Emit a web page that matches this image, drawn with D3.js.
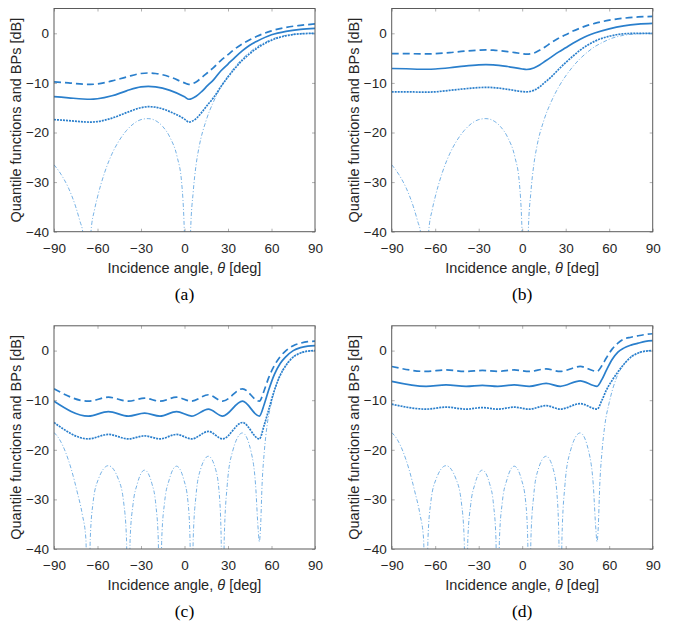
<!DOCTYPE html>
<meta charset="utf-8">
<style>
body { margin: 0; background: #fff; }
.tick text { font-family: Arial, "Liberation Sans", sans-serif; font-size: 13.5px; fill: #262626; }
.tick line { stroke: #b0b0b0; }
.xlab, .ylab { font-family: Arial, "Liberation Sans", sans-serif; font-size: 14.5px; fill: #262626; }
.cap { font-family: "Times New Roman", "Liberation Serif", serif; font-size: 17.5px; fill: #000; }
.box { fill: none; stroke: #5a5a5a; stroke-width: 1; }
.upper { fill: none; stroke: #2a7fcc; stroke-width: 1.7px; stroke-dasharray: 7,4; }
.median { fill: none; stroke: #2a7fcc; stroke-width: 1.7px; }
.lower { fill: none; stroke: #2a7fcc; stroke-width: 1.7px; stroke-dasharray: 2,1; }
.bp { fill: none; stroke: #5fa5e0; stroke-width: 1px; stroke-dasharray: 4,2,1,2; stroke-opacity: 0.85; }
</style>
<body>
<script src="https://d3js.org/d3.v7.min.js"></script>
<script>
var width = 678, height = 626;
var plotW = 261, plotH = 223.2;

// x ticks / y ticks
var xTicks = [-90, -60, -30, 0, 30, 60, 90];
var yTicks = [-40, -30, -20, -10, 0];

// panels (a),(b): quantile curves on a shared angle grid
var angAB = [-90, -80, -70, -65, -60, -50, -40, -30, -25, -20, -10, 0, 3, 8, 12, 16, 20, 25, 30, 35, 40, 45, 50, 60, 70, 80, 90];
var upperA  = [-9.8, -10.0, -10.25, -10.3, -10.2, -9.6, -8.8, -8.1, -8.0, -8.1, -8.8, -10.0, -10.3, -9.8, -8.9, -7.9, -6.9, -5.5, -4.3, -3.1, -2.1, -1.3, -0.6, 0.5, 1.2, 1.6, 1.9];
var medianA = [-12.75, -13.0, -13.25, -13.3, -13.2, -12.6, -11.6, -10.8, -10.7, -10.8, -11.5, -12.8, -13.3, -12.7, -11.7, -10.5, -9.4, -7.6, -6.2, -4.8, -3.5, -2.4, -1.6, -0.3, 0.4, 0.8, 1.0];
var lowerA  = [-17.4, -17.6, -17.85, -17.9, -17.8, -17.1, -16.0, -15.0, -14.8, -14.9, -15.8, -17.3, -17.9, -17.2, -15.9, -14.4, -13.0, -10.8, -8.8, -7.0, -5.4, -4.1, -3.0, -1.4, -0.5, -0.1, 0];

var upperB  = [-4.1, -4.1, -4.15, -4.15, -4.1, -3.9, -3.6, -3.4, -3.35, -3.4, -3.7, -4.1, -4.2, -4.0, -3.4, -2.7, -1.9, -1.0, -0.3, 0.45, 1.05, 1.6, 2.0, 2.65, 3.05, 3.3, 3.4];
var medianB = [-7.1, -7.15, -7.25, -7.25, -7.2, -6.95, -6.6, -6.35, -6.3, -6.35, -6.7, -7.2, -7.3, -7.0, -6.4, -5.6, -4.8, -3.8, -2.9, -2.0, -1.2, -0.5, 0.05, 0.9, 1.5, 1.85, 2.0];
var lowerB  = [-11.8, -11.8, -11.85, -11.85, -11.8, -11.5, -11.2, -10.95, -10.9, -10.95, -11.3, -11.75, -11.8, -11.5, -10.8, -9.8, -8.8, -7.3, -5.9, -4.6, -3.4, -2.4, -1.6, -0.6, -0.1, 0, 0];

// beam pattern for (a),(b)
var angBP1 = [-90, -85, -80, -75, -72, -70.2, -67.4, -64.5, -62, -60, -55, -50, -45, -40, -35, -30, -25, -20, -15, -10, -5, -2, -0.1, 2.1, 4.2, 6, 8, 10, 15, 20, 25, 30, 35, 40, 45, 50, 55, 60, 70, 80, 90];
var bp1    = [-26.5, -28.5, -31.2, -35, -38, -40, -70, -40, -35.5, -33, -28, -24.3, -21.6, -19.6, -18.2, -17.4, -17.2, -17.6, -18.8, -21, -25, -30, -40, -70, -40, -32, -26.5, -23, -17.5, -13.8, -10.9, -8.6, -6.7, -5.1, -3.8, -2.7, -1.9, -1.2, -0.4, -0.1, 0];

// panels (c),(d): quantile curves at lobe peaks / nulls
var angCD = [-90, -66.3, -52.5, -38.7, -27.5, -16.9, -5.5, 4.9, 16.5, 26.3, 40, 51.6, 55, 58, 62, 66, 70, 75, 80, 85, 90];
var upperC  = [-7.7, -10.2, -9.4, -10.2, -9.6, -10.2, -9.4, -10.2, -8.9, -10.2, -7.7, -10.2, -8.0, -5.5, -3.0, -1.2, 0.0, 1.0, 1.5, 1.8, 1.9];
var medianC = [-10.2, -13.2, -12.3, -13.2, -12.6, -13.2, -12.3, -13.2, -11.8, -13.2, -10.2, -13.2, -10.8, -8.0, -4.8, -2.6, -1.2, 0.0, 0.6, 0.9, 1.0];
var lowerC  = [-14.5, -17.8, -16.9, -17.8, -17.2, -17.8, -16.9, -17.8, -16.3, -17.8, -14.5, -17.8, -15.0, -12.0, -8.0, -5.0, -3.0, -1.3, -0.5, -0.1, 0];

var upperD  = [-3.2, -4.2, -3.9, -4.2, -4.0, -4.2, -3.9, -4.2, -3.7, -4.2, -3.2, -4.2, -3.0, -1.5, 0.3, 1.5, 2.3, 2.7, 3.0, 3.25, 3.4];
var medianD = [-6.2, -7.2, -6.9, -7.2, -7.0, -7.2, -6.9, -7.2, -6.6, -7.2, -6.1, -7.2, -5.8, -4.0, -1.8, -0.3, 0.5, 1.1, 1.5, 1.85, 2.0];
var lowerD  = [-10.8, -11.8, -11.4, -11.8, -11.5, -11.8, -11.4, -11.8, -11.1, -11.8, -10.7, -11.8, -10.0, -8.0, -6.0, -4.3, -2.8, -1.3, -0.5, -0.1, 0];

// beam pattern for (c),(d)
var angBP2 = [-90, -86, -82, -78, -74, -70.5, -68, -66.3, -65, -63, -59.5, -52.5, -45.5, -42, -40, -38.7, -37.5, -35.5, -32.5, -27.5, -22.5, -19.8, -18.1, -16.9, -15.7, -13.7, -10.5, -5.5, -0.5, 2.4, 3.8, 4.9, 6, 8, 11, 16.5, 21.5, 24, 25.3, 26.3, 27.4, 29.5, 33, 40, 46, 49, 50.8, 51.6, 52.4, 53.5, 55, 57, 60, 65, 70, 75, 80, 85, 90];
var bp2    = [-16.5, -18, -20.5, -24, -28.5, -33, -38, -70, -38, -30.5, -26, -23.2, -26, -30.5, -38, -70, -38, -31, -26.8, -24.1, -26.8, -31, -38, -70, -38, -30.5, -26, -23.3, -26, -30.5, -38, -70, -38, -29, -24, -21.3, -24, -29, -38, -70, -38, -27, -20.5, -16.6, -20.5, -27, -36, -38.5, -36, -27, -20.5, -15, -10.5, -5.5, -2.8, -1.2, -0.4, -0.1, 0];

var panels = [
  {id: "a", x: 54, y: 8.5, ang: angAB, up: upperA, med: medianA, low: lowerA, bpAng: angBP1, bp: bp1},
  {id: "b", x: 391.7, y: 8.5, ang: angAB, up: upperB, med: medianB, low: lowerB, bpAng: angBP1, bp: bp1},
  {id: "c", x: 54, y: 325.8, ang: angCD, up: upperC, med: medianC, low: lowerC, bpAng: angBP2, bp: bp2},
  {id: "d", x: 391.7, y: 325.8, ang: angCD, up: upperD, med: medianD, low: lowerD, bpAng: angBP2, bp: bp2}
];

var svg = d3.select("body").append("svg")
    .attr("width", width)
    .attr("height", height);
svg.append("rect").attr("width", width).attr("height", height).attr("fill", "#fff");

var x = d3.scaleLinear().domain([-90, 90]).range([0, plotW]);
var y = d3.scaleLinear().domain([-40, 5]).range([plotH, 0]);

function pairs(a, v) {
  return a.map(function(d, i) { return [d, v[i]]; });
}

var line = d3.line()
    .x(function(d) { return x(d[0]); })
    .y(function(d) { return y(d[1]); })
    .curve(d3.curveMonotoneX);

panels.forEach(function(p) {
  var g = svg.append("g").attr("transform", "translate(" + p.x + "," + p.y + ")");

  g.append("clipPath").attr("id", "clip-" + p.id)
    .append("rect").attr("width", plotW).attr("height", plotH);

  // axes, ticks pointing inward
  g.append("g").attr("transform", "translate(0," + plotH + ")")
    .call(d3.axisBottom(x).tickValues(xTicks).tickSizeInner(-3).tickSizeOuter(0).tickPadding(11.5))
    .call(function(s) { s.select(".domain").remove(); });
  g.append("g")
    .call(d3.axisLeft(y).tickValues(yTicks).tickSizeInner(-3).tickSizeOuter(0).tickPadding(5))
    .call(function(s) { s.select(".domain").remove(); });
  g.append("g")
    .call(d3.axisTop(x).tickValues(xTicks).tickSizeInner(-3).tickSizeOuter(0).tickFormat(""))
    .call(function(s) { s.select(".domain").remove(); });
  g.append("g").attr("transform", "translate(" + plotW + ",0)")
    .call(d3.axisRight(y).tickValues(yTicks).tickSizeInner(-3).tickSizeOuter(0).tickFormat(""))
    .call(function(s) { s.select(".domain").remove(); });
  g.selectAll(".tick text").attr("fill", null);
  g.selectAll(".tick line").attr("stroke", null);

  var lines = g.append("g").attr("clip-path", "url(#clip-" + p.id + ")");
  lines.append("path").attr("class", "bp").attr("d", line(pairs(p.bpAng, p.bp)));
  lines.append("path").attr("class", "lower").attr("d", line(pairs(p.ang, p.low)));
  lines.append("path").attr("class", "median").attr("d", line(pairs(p.ang, p.med)));
  lines.append("path").attr("class", "upper").attr("d", line(pairs(p.ang, p.up)));

  g.append("rect").attr("class", "box").attr("width", plotW).attr("height", plotH);

  g.append("text").attr("class", "xlab")
    .attr("x", plotW / 2).attr("y", plotH + 41.5)
    .attr("text-anchor", "middle")
    .text("Incidence angle, ")
    .append("tspan").attr("font-style", "italic").text("θ")
    .select(function() { return this.parentNode; })
    .append("tspan").text(" [deg]");

  g.append("text").attr("class", "ylab")
    .attr("transform", "translate(" + (-33) + "," + (plotH / 2) + ") rotate(-90)")
    .attr("text-anchor", "middle")
    .text("Quantile functions and BPs [dB]");

  g.append("text").attr("class", "cap")
    .attr("x", plotW / 2).attr("y", plotH + 68.5)
    .attr("text-anchor", "middle")
    .text("(" + p.id + ")");
});
</script>
</body>
</html>
